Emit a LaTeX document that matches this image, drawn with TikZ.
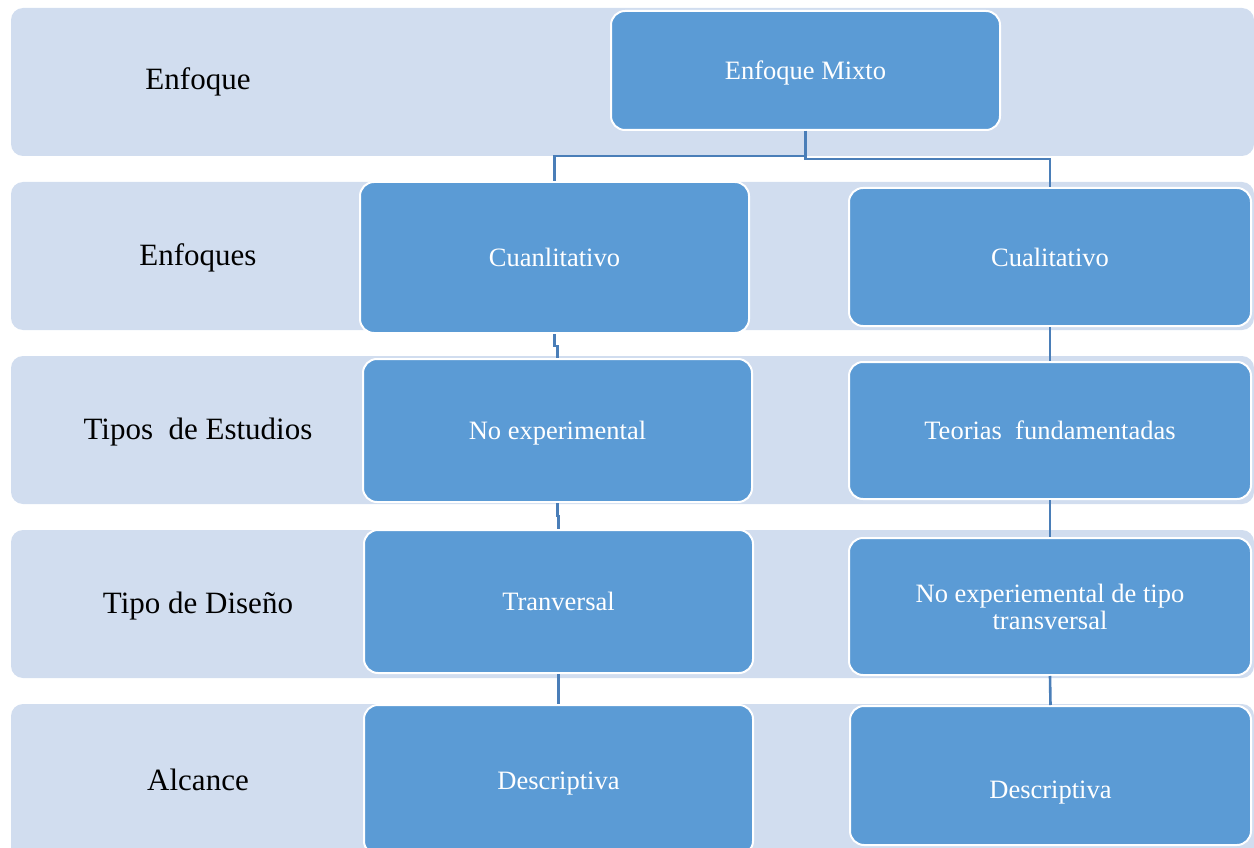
\documentclass[tikz,border=0pt]{standalone}
\usepackage{fontspec}
\setmainfont{Liberation Serif}
\definecolor{bandfill}{HTML}{D1DDEF}
\definecolor{boxfill}{HTML}{5B9BD5}
\definecolor{linkcol}{HTML}{4A7EB8}
\begin{document}
\begin{tikzpicture}[x=1pt,y=-1pt,
  band/.style={fill=bandfill,rounded corners=12pt},
  rowlabel/.style={text=black,font=\fontsize{31}{36}\selectfont,inner sep=0pt},
  stage/.style={draw=white,line width=2pt,fill=boxfill,rounded corners=14pt,
    text=white,font=\fontsize{26.5}{27}\selectfont,align=center,inner sep=4pt},
  oneline/.style={text height=24pt,text depth=6pt},
  conn/.style={draw=linkcol,line width=2.6pt}]
\useasboundingbox (0,0) rectangle (1254,848);
\clip (0,0) rectangle (1254,848);

% background rows
\path[band] (11,8)   rectangle (1254,156);
\path[band] (11,182) rectangle (1254,330);
\path[band] (11,356) rectangle (1254,504);
\path[band] (11,530) rectangle (1254,678);
\path[band] (11,704) rectangle (1254,880);

% row captions
\node[rowlabel] (l1) at (198,82)  {Enfoque};
\node[rowlabel] (l2) at (198,258) {Enfoques};
\node[rowlabel] (l3) at (198,432) {Tipos\ \ de Estudios};
\node[rowlabel] (l4) at (198,606) {Tipo de Diseño};
\node[rowlabel] (l5) at (198,780) {Alcance};

% boxes
\node[stage,oneline,minimum width=389pt,minimum height=119pt] (mixto) at (805.5,70.5) {Enfoque Mixto};
\node[stage,oneline,minimum width=389pt,minimum height=151pt] (cuan) at (554.5,257.5) {Cuanlitativo};
\node[stage,oneline,minimum width=402pt,minimum height=138pt] (cual) at (1050,257) {Cualitativo};
\node[stage,oneline,minimum width=389pt,minimum height=143pt] (noexp) at (557.5,430.5) {No experimental};
\node[stage,oneline,minimum width=402pt,minimum height=137pt] (teor) at (1050,430.5) {Teorias\ \ fundamentadas};
\node[stage,oneline,minimum width=389pt,minimum height=143pt] (tran) at (558.5,601.5) {Tranversal};
\node[stage,minimum width=402pt,minimum height=137pt] (noexpt) at (1050,606.5) {No experiemental de tipo\\transversal};
\node[stage,oneline,minimum width=389pt,minimum height=150pt] (descl) at (558.5,780) {Descriptiva};
\node[stage,minimum width=401pt,minimum height=139pt,text height=52pt,text depth=6pt] (descr) at (1050.5,775.5) {Descriptiva};

% connectors
\draw[conn] (mixto.south) -- ++(0,25) -| (cuan.north);
\draw[conn] (mixto.south) -- ++(0,28) -| (cual.north);
\draw[conn] (cuan.south) -- ++(0,12) -| (noexp.north);
\draw[conn] (cual.south) -- (teor.north);
\draw[conn] (noexp.south) -- ++(0,13) -| (tran.north);
\draw[conn] (teor.south) -- (noexpt.north);
\draw[conn] (tran.south) -- ++(0,15) -| (descl.north);
\draw[conn] (noexpt.south) -- (descr.north);
\end{tikzpicture}
\end{document}
